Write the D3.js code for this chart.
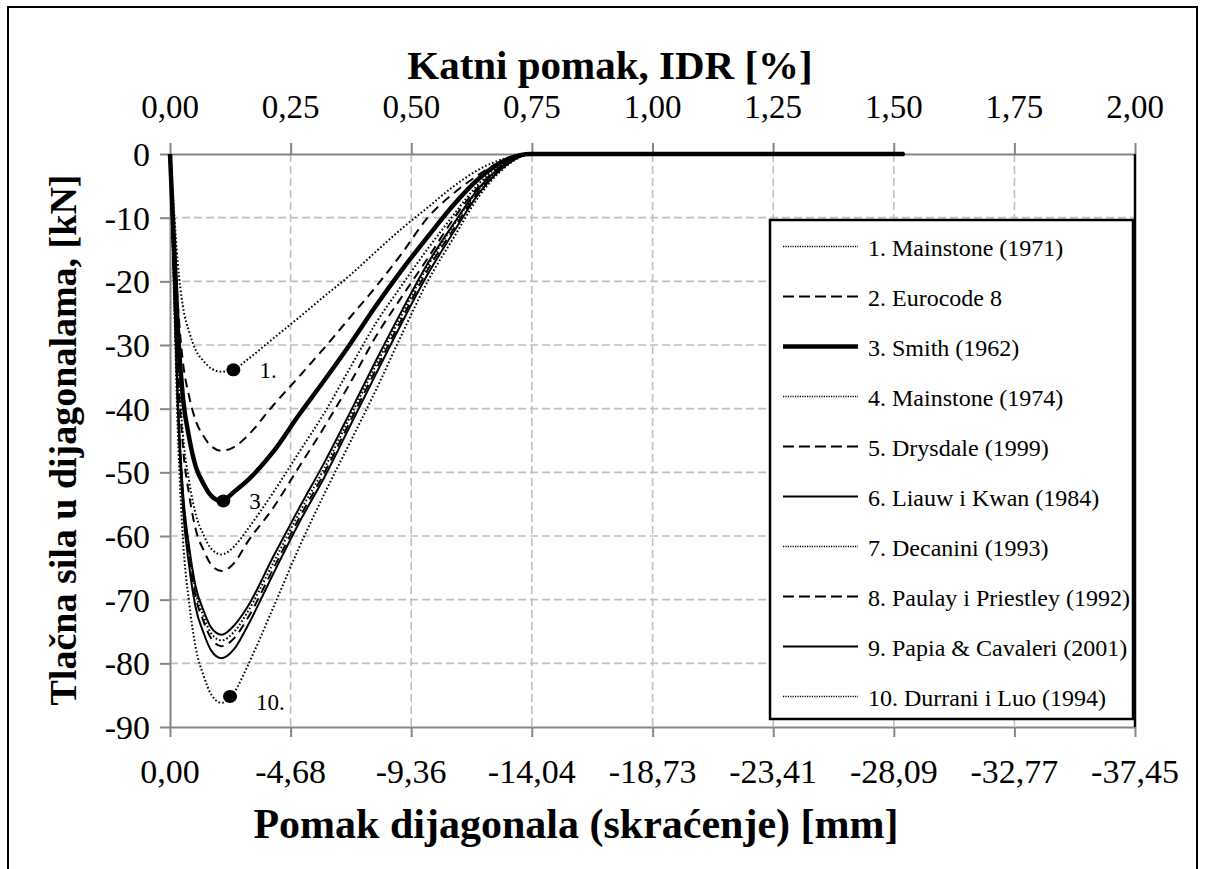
<!DOCTYPE html>
<html><head><meta charset="utf-8">
<script src="https://cdn.jsdelivr.net/npm/d3@7"></script>
<style>body{margin:0;background:#fff}svg{display:block}</style>
</head><body>
<svg id="c" width="1205" height="869"></svg>
<script>
// ---------------- data ----------------
const xMM = [0, -0.15, -0.3, -0.5, -0.75, -1.0, -1.3, -1.6, -2.0, -2.5, -3, -4, -5, -6, -7, -8, -9, -10, -11, -12, -13, -14, -28.5];
const s1  = [0, -8.6, -17.1, -23.9, -28.0, -30.8, -32.5, -33.7, -34.2, -33.8, -32.3, -29.0, -25.7, -22.3, -19.0, -15.3, -11.7, -8.4, -5.1, -2.4, -0.7, 0, 0];
const s2  = [0, -11.7, -23.3, -32.6, -38.2, -41.9, -44.3, -45.9, -46.6, -46.0, -44.3, -39.5, -35.0, -30.4, -25.6, -20.8, -15.6, -10.0, -6.2, -3.2, -0.9, 0, 0];
const s3  = [0, -13.6, -27.3, -38.2, -44.7, -49.1, -51.8, -53.7, -54.5, -53.0, -51.3, -46.8, -41.0, -35.5, -29.8, -23.8, -18.2, -13.0, -8.0, -3.8, -1.0, 0, 0];
const s4  = [0, -15.7, -31.5, -44.0, -51.6, -56.6, -59.8, -62.0, -62.9, -61.6, -59.0, -53.2, -46.9, -40.6, -33.5, -26.5, -20.6, -14.9, -9.6, -4.6, -1.3, 0, 0];
const s5  = [0, -16.4, -32.8, -45.9, -53.7, -59.0, -62.2, -64.5, -65.5, -64.2, -61.0, -55.6, -49.2, -42.8, -35.9, -28.6, -22.4, -16.4, -10.2, -5.0, -1.5, 0, 0];
const s6  = [0, -18.9, -37.8, -52.9, -61.9, -68.0, -71.7, -74.4, -75.5, -74.0, -71.2, -63.3, -55.7, -48.4, -40.5, -32.4, -24.6, -17.2, -11.0, -5.3, -1.6, 0, 0];
const s7  = [0, -19.1, -38.2, -53.5, -62.6, -68.8, -72.6, -75.3, -76.4, -75.0, -72.0, -64.3, -56.5, -49.3, -41.2, -33.1, -25.2, -17.6, -11.2, -5.5, -1.7, 0, 0];
const s8  = [0, -19.3, -38.7, -54.1, -63.4, -69.6, -73.4, -76.1, -77.3, -76.0, -73.0, -65.2, -57.3, -50.0, -41.9, -33.8, -25.9, -18.2, -11.8, -5.8, -1.8, 0, 0];
const s9  = [0, -19.8, -39.6, -55.4, -64.9, -71.3, -75.2, -78.0, -79.2, -77.7, -74.2, -66.0, -58.0, -50.7, -42.6, -34.5, -26.5, -18.9, -12.3, -6.1, -1.9, 0, 0];
const s10 = [0, -21.6, -43.1, -60.3, -70.7, -77.6, -81.9, -84.9, -86.2, -84.5, -80.5, -71.3, -61.9, -53.3, -45.2, -37.0, -28.3, -20.0, -13.2, -6.6, -2.1, 0, 0];
const seriesValues = [s1, s2, s3, s4, s5, s6, s7, s8, s9, s10];
const seriesNames = ["1. Mainstone (1971)", "2. Eurocode 8", "3. Smith (1962)", "4. Mainstone (1974)",
  "5. Drysdale (1999)", "6. Liauw i Kwan (1984)", "7. Decanini (1993)", "8. Paulay i Priestley (1992)",
  "9. Papia & Cavaleri (2001)", "10. Durrani i Luo (1994)"];
const markerX = [-2.46, -2.07, -2.33];
const markerY = [-33.9, -54.5, -85.2];
const markerLabels = ["1.", "3", "10."];
const bottomTicks = [0, -4.68, -9.36, -14.04, -18.73, -23.41, -28.09, -32.77, -37.45];
const bottomTickLabels = ["0,00", "-4,68", "-9,36", "-14,04", "-18,73", "-23,41", "-28,09", "-32,77", "-37,45"];
const topTicks = [0, 0.25, 0.5, 0.75, 1.0, 1.25, 1.5, 1.75, 2.0];
const topTickLabels = ["0,00", "0,25", "0,50", "0,75", "1,00", "1,25", "1,50", "1,75", "2,00"];
const yTicks = [0, -10, -20, -30, -40, -50, -60, -70, -80, -90];
const yTickLabels = ["0", "-10", "-20", "-30", "-40", "-50", "-60", "-70", "-80", "-90"];
const titleTop = "Katni pomak, IDR [%]";
const titleBottom = "Pomak dijagonala (skraćenje) [mm]";
const titleY = "Tlačna sila u dijagonalama, [kN]";

// ---------------- styles ----------------
const DOT = {w: 2, dash: "1.6,2.2"}, DASH = {w: 2, dash: "9,6"}, THICK = {w: 4.5, dash: null}, SOLID = {w: 2, dash: null};
const styles = [DOT, DASH, THICK, DOT, DASH, SOLID, DOT, DASH, SOLID, DOT];
const FONT = "'Liberation Serif','Times New Roman',serif";

const svg = d3.select("#c");
const L = 170, R = 1135, T = 154, B = 727;
const x = d3.scaleLinear().domain([0, -37.45]).range([L, R]);
const xTop = d3.scaleLinear().domain([0, 2]).range([L, R]);
const y = d3.scaleLinear().domain([0, -90]).range([T, B]);

function txt(g, s, px, py, size, anchor, bold, rot) {
  const t = g.append("text").text(s)
    .attr("font-family", FONT).attr("font-size", size)
    .attr("font-weight", bold ? "bold" : "normal")
    .attr("text-anchor", anchor).attr("fill", "#000");
  if (rot) t.attr("transform", `translate(${px},${py}) rotate(-90)`);
  else t.attr("x", px).attr("y", py);
  return t;
}

// outer frame
svg.append("path").attr("d", "M8,869V7H1197V869").attr("fill", "none").attr("stroke", "#000").attr("stroke-width", 2);

// grid
const grid = svg.append("g").attr("stroke", "#c0c0c0").attr("stroke-width", 1.6).attr("stroke-dasharray", "8,4");
grid.selectAll(".gv").data(bottomTicks.slice(1, -1)).enter().append("line")
  .attr("x1", d => x(d)).attr("x2", d => x(d)).attr("y1", T).attr("y2", B);
grid.selectAll(".gh").data(yTicks.slice(1, -1)).enter().append("line")
  .attr("x1", L).attr("x2", R).attr("y1", d => y(d)).attr("y2", d => y(d));

// axes
const axCol = "#868686";
function styleAxis(g) {
  g.selectAll("path,line").attr("stroke", axCol).attr("stroke-width", 2);
  g.selectAll("text").remove();
}
svg.append("g").attr("transform", `translate(0,${T})`)
  .call(d3.axisTop(xTop).tickValues(topTicks).tickSize(11).tickSizeOuter(0)).call(styleAxis);
svg.append("g").attr("transform", `translate(0,${B})`)
  .call(d3.axisBottom(x).tickValues(bottomTicks).tickSize(10).tickSizeOuter(0)).call(styleAxis);
svg.append("g").attr("transform", `translate(${L},0)`)
  .call(d3.axisLeft(y).tickValues(yTicks).tickSize(10).tickSizeOuter(0)).call(styleAxis);
// right border line
svg.append("line").attr("x1", R).attr("x2", R).attr("y1", T).attr("y2", B).attr("stroke", "#000").attr("stroke-width", 2.5);

// tick labels
const lab = svg.append("g");
topTicks.forEach((d, i) => txt(lab, topTickLabels[i], xTop(d), 118, 33, "middle"));
bottomTicks.forEach((d, i) => txt(lab, bottomTickLabels[i], x(d), 783, 34, "middle"));
yTicks.forEach((d, i) => txt(lab, yTickLabels[i], 150, y(d) + 12, 34, "end"));
txt(lab, titleTop, 610, 79, 41, "middle", true);
txt(lab, titleBottom, 576, 838, 42, "middle", true);
txt(lab, titleY, 76, 440, 38, "middle", true, true);

// curves
const line = d3.line().x(d => x(d[0])).y(d => y(d[1])).curve(d3.curveMonotoneX);
const cg = svg.append("g");
seriesValues.forEach((vals, i) => {
  const pts = xMM.map((xv, j) => [xv, vals[j]]);
  cg.append("path").attr("d", line(pts)).attr("fill", "none").attr("stroke", "#000")
    .attr("stroke-width", styles[i].w).attr("stroke-dasharray", styles[i].dash)
    .attr("stroke-linejoin", "round");
});

// markers
markerX.forEach((mx, i) => {
  cg.append("ellipse").attr("cx", x(mx)).attr("cy", y(markerY[i])).attr("rx", 7).attr("ry", 6.5).attr("fill", "#000");
  txt(cg, markerLabels[i], x(mx) + 26, y(markerY[i]) + 8 + (i === 2 ? 6 : 0), 23, "start");
});

// legend
const lg = svg.append("g");
lg.append("rect").attr("x", 770).attr("y", 220).attr("width", 363).attr("height", 499)
  .attr("fill", "#fff").attr("stroke", "#000").attr("stroke-width", 2.5);
seriesNames.forEach((n, i) => {
  const ly = 246.5 + 50 * i;
  const st = styles[i];
  lg.append("line").attr("x1", 783).attr("x2", 858).attr("y1", ly).attr("y2", ly)
    .attr("stroke", "#000").attr("stroke-width", st === DOT ? 1.6 : st.w)
    .attr("stroke-dasharray", st === DOT ? "1.2,1.2" : (st === DASH ? "11,5" : null));
  txt(lg, n, 868, ly + 9, 24, "start");
});
</script>
</body></html>
